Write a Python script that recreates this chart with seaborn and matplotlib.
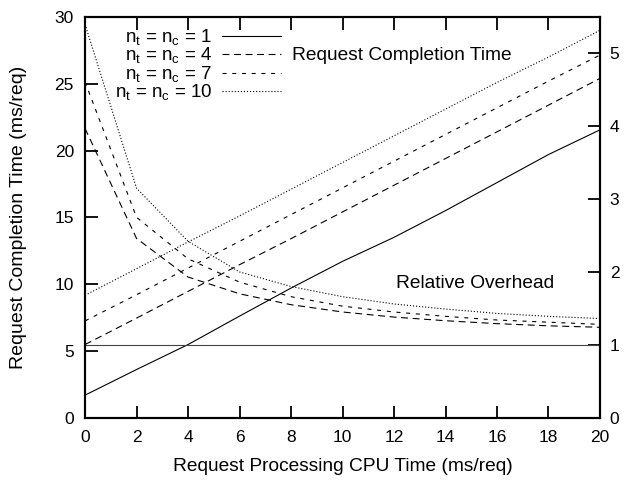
import matplotlib
matplotlib.use("Agg")
import matplotlib.pyplot as plt
import seaborn as sns
import numpy as np

# CPU time per request (ms/req)
cpu_time = [0, 2, 4, 6, 8, 10, 12, 14, 16, 18, 20]

# request completion time (ms/req), left axis
completion_1 = [1.68, 3.6, 5.47, 7.6, 9.7, 11.7, 13.5, 15.5, 17.6, 19.7, 21.55]
completion_4 = [5.47, 7.45, 9.45, 11.45, 13.4, 15.4, 17.4, 19.4, 21.4, 23.4, 25.4]
completion_7 = [7.24, 9.2, 11.2, 13.2, 15.2, 17.2, 19.2, 21.2, 23.2, 25.2, 27.15]
completion_10 = [9.16, 11.15, 13.15, 15.1, 17.1, 19.1, 21.1, 23.1, 25.1, 27.0, 29.0]

# relative overhead, right axis
overhead_1 = [1.0, 1.0, 1.0, 1.0, 1.0, 1.0, 1.0, 1.0, 1.0, 1.0, 1.0]
overhead_4 = [3.97, 2.46, 1.93, 1.70, 1.55, 1.45, 1.38, 1.33, 1.29, 1.26, 1.24]
overhead_7 = [4.61, 2.75, 2.18, 1.86, 1.66, 1.53, 1.45, 1.39, 1.34, 1.31, 1.28]
overhead_10 = [5.4, 3.15, 2.42, 2.0, 1.80, 1.66, 1.56, 1.49, 1.43, 1.39, 1.36]

labels = [r"n$_\mathregular{t}$ = n$_\mathregular{c}$ = 1",
          r"n$_\mathregular{t}$ = n$_\mathregular{c}$ = 4",
          r"n$_\mathregular{t}$ = n$_\mathregular{c}$ = 7",
          r"n$_\mathregular{t}$ = n$_\mathregular{c}$ = 10"]

sns.set_style("ticks", {"axes.edgecolor": "black", "text.color": "black",
                        "axes.labelcolor": "black", "xtick.color": "black",
                        "ytick.color": "black"})
plt.rcParams["font.family"] = ["Liberation Sans", "DejaVu Sans"]
plt.rcParams["font.size"] = 12
plt.rcParams["lines.scale_dashes"] = False

styles = ["-", (0, (5, 3.3)), (0, (2.9, 4.1)), (0, (0.8, 1.4))]
completions = [completion_1, completion_4, completion_7, completion_10]
overheads = [overhead_1, overhead_4, overhead_7, overhead_10]

fig = plt.figure(figsize=(6.28, 4.8), dpi=100)
ax = fig.add_axes([0.1354, 0.130, 0.82, 0.8346])
ax2 = ax.twinx()

handles = []
for comp, ls, lab in zip(completions, styles, labels):
    sns.lineplot(x=cpu_time, y=comp, ax=ax, color="black", linewidth=0.8,
                 linestyle=ls, label=lab, legend=False)
    handles.append(ax.get_lines()[-1])

for ovh, ls in zip(overheads, styles):
    sns.lineplot(x=cpu_time, y=ovh, ax=ax2, color="black", linewidth=0.8,
                 linestyle=ls, legend=False)
ax2.get_lines()[0].set_color("#444444")

ax.set_xlim(0, 20)
ax.set_ylim(0, 30)
ax2.set_ylim(0, 5.5)
ax.set_xticks(range(0, 21, 2))
ax.set_yticks(range(0, 31, 5))
ax2.set_yticks(range(0, 6))

ax.set_xlabel("Request Processing CPU Time (ms/req)", fontsize=13.8, labelpad=9)
ax.set_ylabel("Request Completion Time (ms/req)", fontsize=14, labelpad=20)

for a in (ax, ax2):
    for s in a.spines.values():
        s.set_linewidth(1.5)
        s.set_color("black")
        s.set_visible(True)
ax.tick_params(axis="x", direction="in", length=9, width=1.3, top=True, pad=9, labelsize=12.5)
ax.tick_params(axis="y", direction="in", length=9, width=1.3, right=False, pad=8, labelsize=12.5)
ax2.tick_params(axis="y", direction="in", length=9, width=1.3, pad=7, labelsize=12.5)

ax.text(8.04, 27.1, "Request Completion Time", ha="left", va="center", fontsize=13.8)
ax.text(12.06, 10.04, "Relative Overhead", ha="left", va="center", fontsize=13.8)

ax.legend(handles=handles, labels=labels, loc="upper right", frameon=False,
          markerfirst=False, handlelength=3.15, handletextpad=0.5,
          labelspacing=-0.1, borderpad=0, fontsize=13.5,
          bbox_to_anchor=(290 / 628, 1 - 18 / 480), bbox_transform=fig.transFigure)

fig.savefig("out.png", dpi=100)
